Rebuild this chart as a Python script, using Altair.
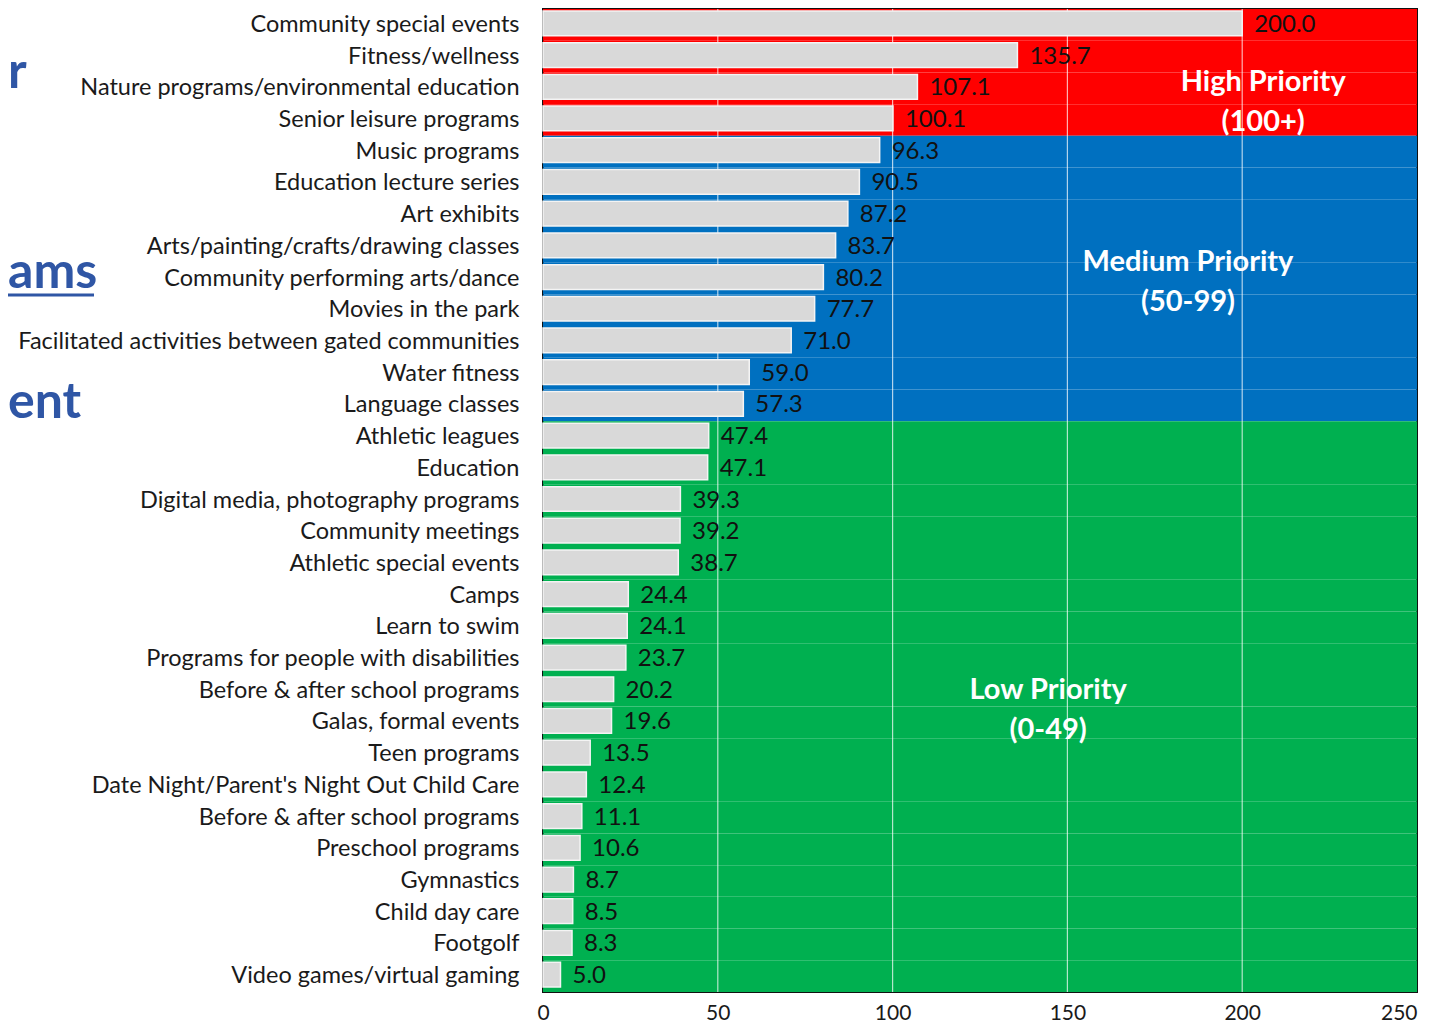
import json
import altair as alt
import pandas as pd

categories = [
    "Community special events", "Fitness/wellness",
    "Nature programs/environmental education", "Senior leisure programs",
    "Music programs", "Education lecture series", "Art exhibits",
    "Arts/painting/crafts/drawing classes", "Community performing arts/dance",
    "Movies in the park", "Facilitated activities between gated communities",
    "Water fitness", "Language classes", "Athletic leagues", "Education",
    "Digital media, photography programs", "Community meetings",
    "Athletic special events", "Camps", "Learn to swim",
    "Programs for people with disabilities", "Before & after school programs",
    "Galas, formal events", "Teen programs",
    "Date Night/Parent's Night Out Child Care", "Before & after school programs",
    "Preschool programs", "Gymnastics", "Child day care", "Footgolf",
    "Video games/virtual gaming",
]
values = [200.0, 135.7, 107.1, 100.1, 96.3, 90.5, 87.2, 83.7, 80.2, 77.7, 71.0,
          59.0, 57.3, 47.4, 47.1, 39.3, 39.2, 38.7, 24.4, 24.1, 23.7, 20.2, 19.6,
          13.5, 12.4, 11.1, 10.6, 8.7, 8.5, 8.3, 5.0]
priority_names = ["High", "Medium", "Low"]
priority_colors = ["#ff0000", "#0070c0", "#00b050"]
grid_values = [50, 100, 150, 200]
x_ticks = [0, 50, 100, 150, 200, 250]

ann_text = ["High Priority\n(100+)", "Medium Priority\n(50-99)", "Low Priority\n(0-49)"]
ann_x = [206, 184.5, 144.5]
ann_y = [73, 253, 681]

W, H = 874, 983
FONT = "Lato"


def prio(v):
    return "High" if v >= 100 else ("Medium" if v >= 50 else "Low")


df = pd.DataFrame({
    "idx": list(range(len(categories))),
    "name": categories,
    "value": values,
    "priority": [prio(v) for v in values],
})

label_expr = json.dumps(categories) + "[datum.value]"

xscale = alt.Scale(domain=[0, 250], nice=False, zero=True)
yscale = alt.Scale(paddingInner=0, paddingOuter=0)

base = alt.Chart(df)

yenc = alt.Y(
    "idx:O", scale=yscale,
    axis=alt.Axis(title=None, labelExpr=label_expr, ticks=False, domain=False,
                  labelPadding=24, labelFontSize=23.5, labelFont=FONT,
                  labelColor="#1a1a1a", labelLimit=700),
)

background = base.mark_rect().encode(
    y=yenc,
    x=alt.value(0), x2=alt.value(W),
    color=alt.Color("priority:N",
                    scale=alt.Scale(domain=priority_names, range=priority_colors),
                    legend=None),
)

grid = alt.Chart(pd.DataFrame({"g": grid_values})).mark_rule(
    color="white", strokeWidth=1.2, opacity=0.7
).encode(x=alt.X("g:Q", scale=xscale))

bars = base.mark_bar(
    fill="#d9d9d9", stroke="#f4f4f4", strokeWidth=1.5,
    height={"band": 0.78}, yOffset=-1.5,
).encode(
    y="idx:O",
    x=alt.X("value:Q", scale=xscale,
            axis=alt.Axis(title=None, values=x_ticks, ticks=False, domain=False,
                          grid=False, labelFontSize=21, labelFont=FONT,
                          labelColor="#1a1a1a", labelPadding=27,
                          labelBaseline="alphabetic", labelFlush=False,
                          labelAlign=alt.ExprRef(
                              "datum.value >= 250 ? 'right' : 'center'"))),
)

value_labels = base.mark_text(
    align="left", baseline="middle", dx=12, dy=0, fontSize=24, font=FONT,
    color="#111111",
).encode(
    y="idx:O",
    x=alt.X("value:Q", scale=xscale),
    text=alt.Text("value:Q", format=".1f"),
)

layers = [background, grid, bars, value_labels]

for t, xv, yv in zip(ann_text, ann_x, ann_y):
    layers.append(
        alt.Chart(pd.DataFrame({"t": [t], "x": [xv]})).mark_text(
            lineBreak="\n", lineHeight=40, fontWeight="bold", fontSize=29,
            font=FONT, color="white", align="center", baseline="middle",
        ).encode(x=alt.X("x:Q", scale=xscale), y=alt.value(yv), text="t:N")
    )

# slide title fragments seen at the left edge of the source image
frag_text = ["r", "ams", "ent"]
frag_y = [79, 279, 409]
for t, yv in zip(frag_text, frag_y):
    layers.append(
        alt.Chart(pd.DataFrame({"t": [t]})).mark_text(
            fontWeight="bold", fontSize=50, font=FONT, color="#2f56a5",
            align="left", baseline="alphabetic",
        ).encode(x=alt.value(-535), y=alt.value(yv), text="t:N")
    )
layers.append(
    alt.Chart(pd.DataFrame({"t": [0]})).mark_rule(color="#2f56a5", strokeWidth=3).encode(
        x=alt.value(-535), x2=alt.value(-449), y=alt.value(286)
    )
)

chart = alt.layer(*layers).properties(
    width=W, height=H,
    autosize=alt.AutoSizeParams(type="none"),
    padding={"left": 535, "top": 1, "right": 12, "bottom": 32},
    background="white",
).configure_view(stroke="#111111", strokeWidth=2)

chart.save("out.html", embed_options={"renderer": "svg", "actions": False})
